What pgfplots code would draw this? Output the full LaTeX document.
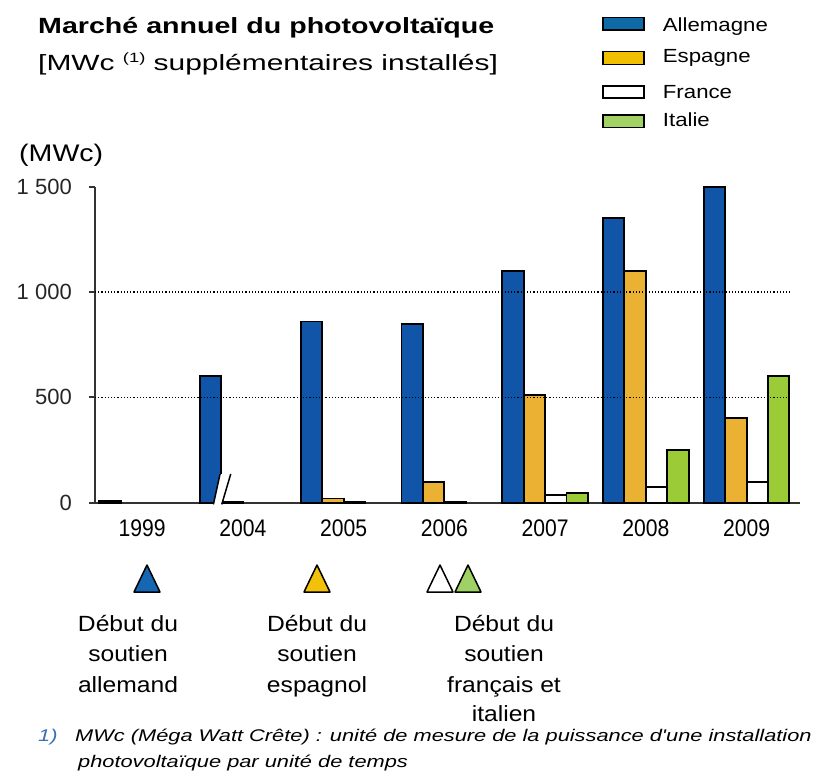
\documentclass[border=0pt]{standalone}
\usepackage{fontspec}
\setmainfont{Liberation Sans}
\newfontfamily\titlefont[FakeStretch=1.30]{Liberation Sans}
\newfontfamily\subfont[FakeStretch=1.36]{Liberation Sans}
\newfontfamily\midfont[FakeStretch=1.12]{Liberation Sans}
\newfontfamily\legfont[FakeStretch=1.17]{Liberation Sans}
\newfontfamily\mwcfont[FakeStretch=1.19]{Liberation Sans}
\newfontfamily\narrowfont[FakeStretch=0.88]{Liberation Sans}
\newfontfamily\footfont[FakeStretch=1.29]{Liberation Sans}
\usepackage{pgfplots}
\pgfplotsset{compat=1.18}
\definecolor{barblue}{HTML}{1155A8}
\definecolor{barorange}{HTML}{EBB132}
\definecolor{bargreen}{HTML}{9BCB37}
\definecolor{legblue}{HTML}{0E6AA6}
\definecolor{legyellow}{HTML}{F0C000}
\definecolor{leggreen}{HTML}{A2D264}
\definecolor{triblue}{HTML}{1566B3}
\definecolor{triyellow}{HTML}{F2C10A}
\definecolor{trigreen}{HTML}{9FD264}
\definecolor{footblue}{HTML}{3A70B8}
\definecolor{axisgray}{HTML}{333333}
\begin{document}
\begin{tikzpicture}
\useasboundingbox (0,0) rectangle (827pt,-773pt);
% titles
\node[anchor=base west, inner sep=0pt] at (38pt,-34pt) {\titlefont\bfseries\fontsize{22}{26}\selectfont Marché annuel du photovoltaïque};
\node[anchor=base west, inner sep=0pt] at (38pt,-71pt) {\subfont\fontsize{22}{26}\selectfont [MWc \raisebox{8pt}{\fontsize{13.5}{14}\selectfont (1)} supplémentaires installés]};
\node[anchor=base west, inner sep=0pt] at (19pt,-161pt) {\mwcfont\fontsize{24}{28}\selectfont (MWc)};
% legend
\draw[fill=legblue, line width=1.5pt] (603pt,-17.7pt) rectangle (644pt,-30pt);
\draw[fill=legyellow, line width=1.5pt] (603pt,-51.7pt) rectangle (644pt,-64.3pt);
\draw[fill=white, line width=1.5pt] (603pt,-86pt) rectangle (644pt,-98pt);
\draw[fill=leggreen, line width=1.5pt] (603pt,-115pt) rectangle (644pt,-127.7pt);
\node[anchor=base west, inner sep=0pt] at (662.7pt,-31.7pt) {\legfont\fontsize{19}{22}\selectfont Allemagne};
\node[anchor=base west, inner sep=0pt] at (662.7pt,-62.3pt) {\legfont\fontsize{19}{22}\selectfont Espagne};
\node[anchor=base west, inner sep=0pt] at (662.7pt,-98.3pt) {\legfont\fontsize{19}{22}\selectfont France};
\node[anchor=base west, inner sep=0pt] at (662.7pt,-126.7pt) {\legfont\fontsize{19}{22}\selectfont Italie};
% chart
\begin{axis}[
  at={(95pt,-502.7pt)}, anchor=south west,
  scale only axis, width=705pt, height=316pt,
  xmin=-0.467, xmax=6.53, ymin=0, ymax=1500,
  axis x line=bottom, axis y line=left,
  axis line style={-, draw=axisgray, line width=2pt},
  ybar=0pt, bar width=21.4pt,
  ytick={0,500,1000,1500}, yticklabels={0,500,1 000,1 500},
  tick align=outside, major tick length=6pt,
  ytick style={draw=axisgray, line width=1.8pt},
  xtick={0,1,2,3,4,5,6}, xticklabels={1999,2004,2005,2006,2007,2008,2009},
  xtick style={draw=none},
  every tick label/.append style={inner sep=0pt},
  yticklabel style={anchor=east, xshift=-17pt, font=\fontsize{22}{24}\selectfont, text=black!85},
  xticklabel style={anchor=base, yshift=-28pt, font=\narrowfont\fontsize{24}{26}\selectfont, text=black},
  clip=false,
]
\addplot[draw=black, line width=1.9pt, fill=barblue] coordinates {(0,8) (1,600) (2,860) (3,850) (4,1100) (5,1350) (6,1500)};
\addplot[draw=black, line width=1.9pt, fill=barorange] coordinates {(1,5) (2,20) (3,100) (4,510) (5,1100) (6,400)};
\addplot[draw=black, line width=1.9pt, fill=white] coordinates {(2,5) (3,5) (4,38) (5,75) (6,100)};
\addplot[draw=black, line width=1.9pt, fill=bargreen] coordinates {(4,48) (5,250) (6,600)};
% dotted gridlines on top of bars
\draw[dotted, black, line width=1.2pt] (axis cs:-0.467,500) -- (axis cs:6.43,500);
\draw[dotted, black, line width=1.2pt] (axis cs:-0.467,1000) -- (axis cs:6.43,1000);
% axis break
\fill[white] (axis cs:0.708,-8) -- (axis cs:0.791,-8) -- (axis cs:0.880,136) -- (axis cs:0.774,136) -- cycle;
\draw[line width=1.5pt] (axis cs:0.708,-8) -- (axis cs:0.774,136);
\draw[line width=1.5pt] (axis cs:0.791,-8) -- (axis cs:0.880,136);
\end{axis}
% triangles
\draw[fill=triblue, line width=1.5pt, line join=round] (134pt,-592pt) -- (160pt,-592pt) -- (147pt,-565pt) -- cycle;
\draw[fill=triyellow, line width=1.5pt, line join=round] (304pt,-592pt) -- (330pt,-592pt) -- (317pt,-565pt) -- cycle;
\draw[fill=white, line width=1.5pt, line join=round] (427pt,-592pt) -- (453pt,-592pt) -- (440pt,-565pt) -- cycle;
\draw[fill=trigreen, line width=1.5pt, line join=round] (455pt,-592pt) -- (481pt,-592pt) -- (468pt,-565pt) -- cycle;
% annotations
\begin{scope}[every node/.style={anchor=base, inner sep=0pt, font=\midfont\fontsize{22}{26}\selectfont}]
\node at (128pt,-631pt) {Début du};
\node at (128pt,-661pt) {soutien};
\node at (128pt,-692pt) {allemand};
\node at (317pt,-631pt) {Début du};
\node at (317pt,-661pt) {soutien};
\node at (317pt,-692pt) {espagnol};
\node at (504pt,-631pt) {Début du};
\node at (504pt,-661pt) {soutien};
\node at (504pt,-692pt) {français et};
\node at (504pt,-721pt) {italien};
\end{scope}
% footnote
\node[anchor=base west, inner sep=0pt] at (38pt,-741pt) {\footfont\itshape\fontsize{17}{20}\selectfont\color{footblue}1)};
\node[anchor=base west, inner sep=0pt] at (75pt,-741pt) {\footfont\itshape\fontsize{16.9}{20}\selectfont MWc (Méga Watt Crête) : unité de mesure de la puissance d'une installation};
\node[anchor=base west, inner sep=0pt] at (78pt,-767pt) {\footfont\itshape\fontsize{16.9}{20}\selectfont photovoltaïque par unité de temps};
\end{tikzpicture}
\end{document}
